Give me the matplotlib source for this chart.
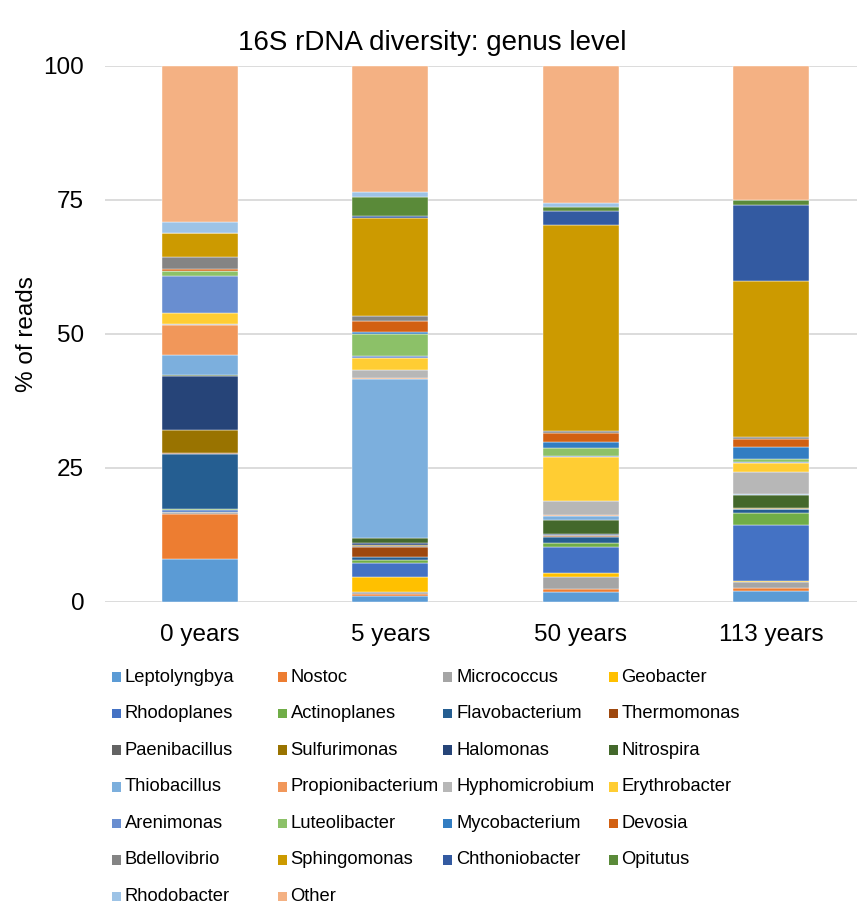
import matplotlib
matplotlib.use("Agg")
import matplotlib.pyplot as plt
from matplotlib.patches import Rectangle

plt.rcParams["font.family"] = ["Liberation Sans", "DejaVu Sans"]

samples = ["0 years", "5 years", "50 years", "113 years"]

genera = [
    "Leptolyngbya", "Nostoc", "Micrococcus", "Geobacter",
    "Rhodoplanes", "Actinoplanes", "Flavobacterium", "Thermomonas",
    "Paenibacillus", "Sulfurimonas", "Halomonas", "Nitrospira",
    "Thiobacillus", "Propionibacterium", "Hyphomicrobium", "Erythrobacter",
    "Arenimonas", "Luteolibacter", "Mycobacterium", "Devosia",
    "Bdellovibrio", "Sphingomonas", "Chthoniobacter", "Opitutus",
    "Rhodobacter", "Other",
]

colors = [
    "#5B9BD5", "#ED7D31", "#A5A5A5", "#FFC000",
    "#4472C4", "#70AD47", "#255E91", "#9E480E",
    "#636363", "#997300", "#264478", "#43682B",
    "#7CAFDD", "#F1975A", "#B7B7B7", "#FFCD33",
    "#698ED0", "#8CC168", "#327DC2", "#D26012",
    "#848484", "#CC9A00", "#335AA1", "#5A8A39",
    "#9DC3E6", "#F4B183",
]

# % of reads per genus, one list per genus, values for 0 / 5 / 50 / 113 years
leptolyngbya      = [7.9, 1.1, 1.7, 1.9]
nostoc            = [8.4, 0.3, 0.6, 0.6]
micrococcus       = [0.4, 0.4, 2.3, 1.2]
geobacter         = [0.1, 2.7, 0.8, 0.1]
rhodoplanes       = [0.3, 2.7, 4.7, 10.4]
actinoplanes      = [0.2, 0.5, 0.8, 2.3]
flavobacterium    = [10.3, 0.6, 1.2, 0.7]
thermomonas       = [0.1, 1.9, 0.1, 0.05]
paenibacillus     = [0.1, 0.1, 0.2, 0.1]
sulfurimonas      = [4.2, 0.3, 0.1, 0.05]
halomonas         = [10.2, 0.3, 0.1, 0.05]
nitrospira        = [0.1, 0.9, 2.7, 2.35]
thiobacillus      = [3.7, 29.7, 0.7, 0.3]
propionibacterium = [5.6, 0.2, 0.1, 0.05]
hyphomicrobium    = [0.3, 1.5, 2.7, 4.05]
erythrobacter     = [1.9, 2.3, 8.1, 1.7]
arenimonas        = [7.0, 0.3, 0.3, 0.2]
luteolibacter     = [0.9, 4.2, 1.4, 0.6]
mycobacterium     = [0.1, 0.3, 1.2, 2.1]
devosia           = [0.3, 2.0, 1.7, 1.6]
bdellovibrio      = [2.2, 1.1, 0.3, 0.4]
sphingomonas      = [4.5, 18.3, 38.5, 29.1]
chthoniobacter    = [0.05, 0.3, 2.7, 14.1]
opitutus          = [0.05, 3.5, 0.7, 0.9]
rhodobacter       = [2.0, 0.9, 0.7, 0.1]
other             = [29.1, 23.6, 25.6, 25.0]

series = [
    leptolyngbya, nostoc, micrococcus, geobacter,
    rhodoplanes, actinoplanes, flavobacterium, thermomonas,
    paenibacillus, sulfurimonas, halomonas, nitrospira,
    thiobacillus, propionibacterium, hyphomicrobium, erythrobacter,
    arenimonas, luteolibacter, mycobacterium, devosia,
    bdellovibrio, sphingomonas, chthoniobacter, opitutus,
    rhodobacter, other,
]

W, H = 857, 908
fig = plt.figure(figsize=(W / 100, H / 100), dpi=100)

left_px, right_px = 105, 866
top_px, bottom_px = 66, 601.5
ax = fig.add_axes([left_px / W, 1 - bottom_px / H,
                   (right_px - left_px) / W, (bottom_px - top_px) / H])

x = list(range(len(samples)))
bottoms = [0.0] * len(samples)
for name, vals, col in zip(genera, series, colors):
    ax.bar(x, vals, width=0.4, bottom=bottoms, color=col,
           edgecolor="white", linewidth=0.3, label=name, zorder=3)
    bottoms = [b + v for b, v in zip(bottoms, vals)]

ax.set_xlim(-0.5, 3.5)
ax.set_ylim(0, 100)
ax.set_yticks([0, 25, 50, 75, 100])
ax.set_xticks(x)
ax.set_xticklabels(samples, fontsize=17.5)
ax.tick_params(axis="y", labelsize=17.5, length=0, pad=15)
ax.tick_params(axis="x", length=0, pad=16)
ax.grid(axis="y", color="#D9D9D9", linewidth=1.3, zorder=0)
for s in ax.spines.values():
    s.set_visible(False)
ax.set_ylabel("% of reads", fontsize=17.5, labelpad=4)

fig.text(432 / W, 1 - 43 / H, "16S rDNA diversity: genus level",
         ha="center", va="center", fontsize=20)

# legend laid out row by row in four equal-width columns
col_x = [112, 277.5, 443, 608.5]
row_y0, row_dy = 677, 36.6
sq = 9.5
for i, (name, col) in enumerate(zip(genera, colors)):
    r, c = divmod(i, 4)
    cx = col_x[c]
    cy = row_y0 + r * row_dy
    fig.patches.append(Rectangle((cx / W, 1 - (cy + sq / 2) / H), sq / W, sq / H,
                                 transform=fig.transFigure, facecolor=col,
                                 edgecolor="none"))
    fig.text((cx + 13) / W, 1 - cy / H, name, ha="left", va="center",
             fontsize=13.2)

fig.savefig("out.png", dpi=100)
